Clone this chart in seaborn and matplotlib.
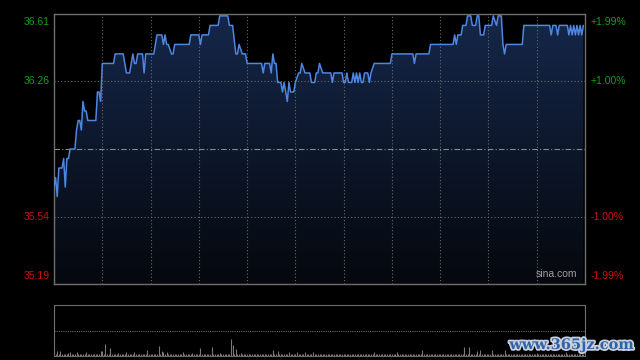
import numpy as np
import pandas as pd
import matplotlib
matplotlib.use("Agg")
import matplotlib.pyplot as plt
import matplotlib.patheffects as pe
from matplotlib.colors import LinearSegmentedColormap
import seaborn as sns

# intraday price (HK session, minutes from 9:30, lunch break removed)
minutes = [0, 1, 2, 3, 5, 6, 7, 8, 9, 10, 13, 14, 15, 16, 17, 18, 19, 20, 21, 26,
           27, 28, 29, 30, 37, 38, 43, 45, 47, 49, 50, 51, 52, 55, 56, 57, 62, 64, 67, 68,
           69, 70, 71, 73, 74, 75, 84, 85, 90, 91, 92, 96, 97, 102, 103, 108, 109, 111, 113, 114,
           115, 117, 119, 120, 129, 130, 131, 134, 135, 136, 137, 138, 139, 141, 142, 143, 145, 146, 147, 149,
           150, 152, 153, 154, 156, 159, 160, 162, 163, 164, 165, 167, 172, 173, 174, 179, 180, 181, 182, 183,
           185, 186, 187, 188, 189, 190, 191, 192, 193, 195, 196, 197, 199, 209, 210, 223, 224, 225, 233, 234,
           248, 249, 250, 251, 253, 254, 256, 257, 259, 260, 262, 263, 264, 265, 267, 268, 272, 273, 275, 276,
           278, 279, 280, 281, 291, 292, 308, 309, 310, 312, 313, 314, 319, 320, 321, 322, 323, 324, 325, 326,
           327, 328, 329]
prices = [35.70, 35.75, 35.65, 35.80, 35.80, 35.85, 35.70, 35.85, 35.85, 35.90, 35.90, 36.00, 36.05, 36.05, 36.00, 36.15, 36.10, 36.10, 36.05, 36.05,
          36.20, 36.20, 36.15, 36.35, 36.35, 36.40, 36.40, 36.30, 36.30, 36.40, 36.35, 36.35, 36.40, 36.40, 36.30, 36.40, 36.40, 36.50, 36.50, 36.45,
          36.50, 36.45, 36.45, 36.40, 36.40, 36.45, 36.45, 36.50, 36.50, 36.45, 36.50, 36.50, 36.55, 36.55, 36.60, 36.60, 36.55, 36.55, 36.40, 36.40,
          36.45, 36.40, 36.40, 36.35, 36.35, 36.30, 36.35, 36.35, 36.30, 36.40, 36.35, 36.35, 36.25, 36.25, 36.20, 36.25, 36.15, 36.25, 36.20, 36.20,
          36.25, 36.30, 36.30, 36.35, 36.30, 36.30, 36.25, 36.25, 36.30, 36.30, 36.35, 36.30, 36.30, 36.25, 36.30, 36.30, 36.25, 36.25, 36.30, 36.25,
          36.25, 36.30, 36.25, 36.30, 36.25, 36.30, 36.25, 36.25, 36.30, 36.30, 36.25, 36.30, 36.35, 36.35, 36.40, 36.40, 36.35, 36.40, 36.40, 36.45,
          36.45, 36.50, 36.45, 36.50, 36.50, 36.55, 36.55, 36.60, 36.60, 36.55, 36.55, 36.60, 36.60, 36.50, 36.50, 36.55, 36.55, 36.60, 36.55, 36.60,
          36.60, 36.45, 36.40, 36.45, 36.45, 36.55, 36.55, 36.50, 36.55, 36.55, 36.50, 36.55, 36.55, 36.50, 36.55, 36.50, 36.55, 36.50, 36.55, 36.50,
          36.55, 36.50, 36.55]

prev_close = 35.90
y_low, y_high = 35.19, 36.61
left_labels = ["36.61", "36.26", "35.54", "35.19"]
right_labels = ["+1.99%", "+1.00%", "-1.00%", "-1.99%"]
label_prices = [36.61, 36.26, 35.54, 35.19]

# volume: noticeable bars (minute, volume); other minutes are tiny
vol_minutes = [0, 2, 4, 9, 10, 14, 20, 29, 30, 32, 35, 40, 45, 50, 58, 65, 67, 68, 70, 80,
               86, 91, 98, 103, 110, 111, 113, 116, 136, 139, 146, 151, 156, 161, 199, 213, 229, 255, 258, 263,
               265, 272, 280, 300, 318]
vol_values = [28, 20, 20, 12, 16, 16, 16, 20, 20, 48, 32, 12, 16, 16, 24, 40, 20, 16, 16, 16,
              12, 32, 36, 12, 68, 44, 28, 12, 24, 20, 16, 16, 16, 16, 16, 16, 24, 36, 36, 20,
              24, 24, 24, 12, 16]
small_vol = 6

df = pd.DataFrame({"minute": minutes, "price": prices})
vol = pd.Series(small_vol, index=range(331))
vol[vol_minutes] = vol_values

sns.set_style("dark")
plt.rcParams["font.family"] = ["Liberation Sans", "DejaVu Sans"]

fig = plt.figure(figsize=(6.4, 3.6), dpi=100, facecolor="black")
ax = fig.add_axes([54 / 640, 1 - 284 / 360, 531 / 640, 270 / 360])
axv = fig.add_axes([54 / 640, 1 - 356 / 360, 531 / 640, 51 / 360])

grid_col = "#6a6a6a"
spine_col = "#707070"

# main price panel
ax.set_facecolor("black")
ax.set_xlim(0, 330)
ax.set_ylim(y_low, y_high)

# gradient fill under the price line
grad = LinearSegmentedColormap.from_list("g", ["#05080d", "#15274a"])
img = ax.imshow(np.linspace(0, 1, 256).reshape(-1, 1), cmap=grad, aspect="auto",
                extent=[0, 330, y_low, y_high], origin="lower", zorder=1)
poly = ax.fill_between(df["minute"], df["price"], y_low, color="none", zorder=1)
img.set_clip_path(poly.get_paths()[0], transform=ax.transData)

for m in range(30, 330, 30):
    ax.axvline(m, color=grid_col, lw=0.8, ls=(0, (1, 2)), zorder=2)
for p in [36.26, 35.54]:
    ax.axhline(p, color=grid_col, lw=0.8, ls=(0, (1, 2)), zorder=2)
ax.axhline(prev_close, color="#8a8a8a", lw=0.8, ls=(0, (5, 2, 1, 2)), zorder=2)

sns.lineplot(data=df, x="minute", y="price", ax=ax, color="#4f86e0", lw=1.1, zorder=3)

ax.set_xticks([])
ax.set_yticks([])
ax.set_xlabel("")
ax.set_ylabel("")
for s in ax.spines.values():
    s.set_color(spine_col)
    s.set_linewidth(1)
    s.set_visible(True)

offsets = [-6, 0, 0, 6]
for p, l, r, off in zip(label_prices, left_labels, right_labels, offsets):
    col = "#14a014" if p > prev_close else "#d01010"
    ax.annotate(l, (0, p), xycoords=("axes fraction", "data"), xytext=(-3, off),
                textcoords="offset points", ha="right", va="center", color=col, fontsize=7.5)
    ax.annotate(r, (1, p), xycoords=("axes fraction", "data"), xytext=(4, off),
                textcoords="offset points", ha="left", va="center", color=col, fontsize=7.5)

ax.text(0.985, 0.02, "sina.com", transform=ax.transAxes, ha="right", va="bottom",
        color="#a0a0a0", fontsize=7.5)

# volume panel
axv.set_facecolor("black")
axv.vlines(vol.index, 0, vol.values, color="#7a7a7a", lw=0.8)
axv.set_xlim(0, 330)
axv.set_ylim(0, 200)
axv.axhline(100, color=grid_col, lw=0.8, ls=(0, (1, 1)))
axv.set_xticks([])
axv.set_yticks([])
for side in ["left", "right"]:
    axv.spines[side].set_color(spine_col)
    axv.spines[side].set_visible(True)
for side in ["top", "bottom"]:
    axv.spines[side].set_color(grid_col)
    axv.spines[side].set_linestyle((0, (1, 1)))
    axv.spines[side].set_visible(True)

fig.text(634 / 640, 1 - 345 / 360, "www.365jz.com", ha="right", va="center",
         color="#2f63a8", fontsize=10.5, fontweight="bold", family="DejaVu Serif",
         path_effects=[pe.withStroke(linewidth=2.5, foreground="#c8d0dc")])

fig.savefig("out.png", dpi=100, facecolor="black")
